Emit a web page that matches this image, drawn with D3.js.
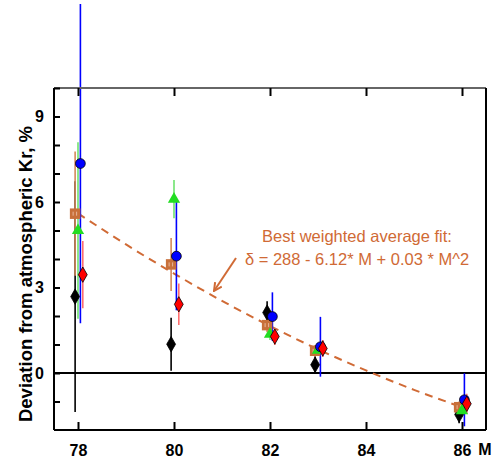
<!DOCTYPE html>
<html>
<head>
<meta charset="utf-8">
<script src="https://cdn.jsdelivr.net/npm/d3@7"></script>
<style>
body { margin: 0; background: #fff; }
text { font-family: Arial, "Liberation Sans", sans-serif; }
</style>
</head>
<body>
<div id="chart"></div>
<script>
// isotope masses and the deviations read for each data set
var masses = [78, 80, 82, 83, 86];

var blackVals = [2.68, 1.01, 2.12, 0.29, -1.46];
var blackErr  = [4.05, 0.93, 0.40, 0.30, 0.30];

var blueVals = [7.35, 4.1, 1.98, 0.92, -0.94];
var blueErr  = [5.6, 1.9, 0.85, 1.05, 0.93];

var greenVals = [5.0, 6.1, 1.36, 0.8, -1.32];
var greenErr  = [3.1, 0.67, 0.2, 0.2, 0.2];

var redVals = [3.45, 2.41, 1.28, 0.86, -1.08];
var redErr  = [1.18, 0.73, 0.3, 0.3, 0.35];

var avgVals = [5.59, 3.81, 1.68, 0.78, -1.2];
var avgErr  = [2.18, 0.93, 0.25, 0.2, 0.2];

// dashed best fit curve
var fitM    = [78, 79, 80, 81, 82, 83, 84, 85, 86];
var fitVals = [5.6, 4.51, 3.49, 2.53, 1.65, 0.83, 0.09, -0.59, -1.2];

var xTicks = [78, 80, 82, 84, 86];
var yTicks = [-1, 0, 1, 2, 3, 4, 5, 6, 7, 8, 9, 10];
var yLabels = [0, 3, 6, 9];

var margin = {top: 88, right: 10, bottom: 29, left: 54},
    width = 496 - margin.left - margin.right,
    height = 459 - margin.top - margin.bottom;

var svg = d3.select("#chart")
  .append("svg")
    .attr("width", 496)
    .attr("height", 459)
  .append("g")
    .attr("transform", "translate(" + margin.left + "," + margin.top + ")");

var x = d3.scaleLinear().domain([77.5, 86.5]).range([0, width]);
var y = d3.scaleLinear().domain([-2, 10]).range([height, 0]);

var orange = "#d06a35";

// series: offset along M so the bars do not overlap
var series = [
  {name: "black", vals: blackVals, err: blackErr, dx: -0.06, bar: "#000", fill: "#000", stroke: "#000", sym: d3.symbolDiamond, size: 68},
  {name: "avg", vals: avgVals, err: avgErr, dx: -0.06, bar: "#d4895a", fill: "#c8703a", stroke: "none", sym: d3.symbolSquare, size: 110},
  {name: "green", vals: greenVals, err: greenErr, dx: 0.0, bar: "#6fe36f", fill: "#22dd22", stroke: "none", sym: d3.symbolTriangle, size: 65},
  {name: "blue", vals: blueVals, err: blueErr, dx: 0.05, bar: "#0000ff", fill: "#0000ff", stroke: "#000", sym: d3.symbolCircle, size: 75},
  {name: "red", vals: redVals, err: redErr, dx: 0.1, bar: "#ff6e6e", fill: "#ff0000", stroke: "#000", sym: d3.symbolDiamond, size: 68}
];

// zero line
svg.append("line")
  .attr("x1", 0).attr("x2", width)
  .attr("y1", y(0)).attr("y2", y(0))
  .attr("stroke", "#000").attr("stroke-width", 2);

// fit curve
var fitData = fitM.map(function(m, i) { return {m: m, v: fitVals[i]}; });
svg.append("path")
  .datum(fitData)
  .attr("fill", "none")
  .attr("stroke", orange)
  .attr("stroke-width", 2)
  .attr("stroke-dasharray", "8,6")
  .attr("d", d3.line()
    .x(function(d) { return x(d.m); })
    .y(function(d) { return y(d.v); })
    .curve(d3.curveNatural));

// error bars
series.forEach(function(s) {
  var rows = masses.map(function(m, i) { return {m: m + s.dx, v: s.vals[i], e: s.err[i]}; });
  svg.append("g").selectAll("line")
    .data(rows)
    .enter()
    .append("line")
    .attr("x1", function(d) { return x(d.m); })
    .attr("x2", function(d) { return x(d.m); })
    .attr("y1", function(d) { return y(d.v - d.e); })
    .attr("y2", function(d) { return y(d.v + d.e); })
    .attr("stroke", s.bar)
    .attr("stroke-width", 1.6);
});

// markers
series.forEach(function(s) {
  var rows = masses.map(function(m, i) { return {m: m + s.dx, v: s.vals[i]}; });
  var g = svg.append("g").selectAll("g")
    .data(rows)
    .enter()
    .append("g")
    .attr("transform", function(d) { return "translate(" + x(d.m) + "," + y(d.v) + ")"; });
  g.append("path")
    .attr("d", d3.symbol().type(s.sym).size(s.size))
    .attr("fill", s.fill)
    .attr("stroke", s.stroke)
    .attr("stroke-width", 0.8);
  if (s.name == "avg") {
    g.append("path")
      .attr("d", "M-2,-2V2M1.5,-2V2")
      .attr("stroke", "#e8b89a")
      .attr("stroke-width", 1);
  }
});

// frame
svg.append("line").attr("x1", 0).attr("x2", width).attr("y1", 0).attr("y2", 0)
  .attr("stroke", "#666").attr("stroke-width", 2);
svg.append("line").attr("x1", 0).attr("x2", width).attr("y1", height).attr("y2", height)
  .attr("stroke", "#000").attr("stroke-width", 2);
svg.append("line").attr("x1", 0).attr("x2", 0).attr("y1", 0).attr("y2", height)
  .attr("stroke", "#000").attr("stroke-width", 2);
svg.append("line").attr("x1", width).attr("x2", width).attr("y1", 0).attr("y2", height)
  .attr("stroke", "#000").attr("stroke-width", 2);

// bottom axis
var xAxis = svg.append("g")
  .attr("transform", "translate(0," + height + ")")
  .call(d3.axisBottom(x).tickValues(xTicks).tickSizeInner(-8).tickSizeOuter(0).tickPadding(15));
xAxis.select(".domain").remove();
xAxis.selectAll("line").attr("stroke-width", 2);
xAxis.selectAll("text")
  .attr("font-size", 16).attr("font-weight", "bold")
  .attr("font-family", "Arial, 'Liberation Sans', sans-serif")
  .attr("fill", "#000");

// top ticks
var topAxis = svg.append("g")
  .call(d3.axisTop(x).tickValues(xTicks).tickSizeInner(-8).tickSizeOuter(0).tickFormat(""));
topAxis.select(".domain").remove();
topAxis.selectAll("line").attr("stroke-width", 2);

// left axis
var yAxis = svg.append("g")
  .call(d3.axisLeft(y).tickValues(yTicks).tickSizeInner(-6).tickSizeOuter(0).tickPadding(10)
    .tickFormat(function(d) { return yLabels.indexOf(d) >= 0 ? d : ""; }));
yAxis.select(".domain").remove();
yAxis.selectAll("line").attr("stroke-width", 2);
yAxis.selectAll("text")
  .attr("font-size", 16).attr("font-weight", "bold")
  .attr("font-family", "Arial, 'Liberation Sans', sans-serif")
  .attr("fill", "#000");

// axis titles
svg.append("text")
  .attr("x", 431)
  .attr("y", height + 25)
  .attr("text-anchor", "middle")
  .attr("font-size", 16)
  .attr("font-weight", "bold")
  .text("M");

svg.append("text")
  .attr("transform", "translate(" + (32 - margin.left) + "," + (274 - margin.top) + ") rotate(-90)")
  .attr("text-anchor", "middle")
  .attr("font-size", 18.5)
  .attr("font-weight", "bold")
  .text("Deviation from atmospheric Kr, %");

// annotation
svg.append("text")
  .attr("x", 357 - margin.left).attr("y", 242 - margin.top)
  .attr("text-anchor", "middle")
  .attr("font-size", 16.5)
  .attr("fill", orange)
  .text("Best weighted average fit:");
svg.append("text")
  .attr("x", 357 - margin.left).attr("y", 265 - margin.top)
  .attr("text-anchor", "middle")
  .attr("font-size", 16.5)
  .attr("fill", orange)
  .text("\u03b4 = 288 - 6.12* M + 0.03 * M^2");

svg.append("defs").append("marker")
  .attr("id", "arrow")
  .attr("viewBox", "0 0 10 10")
  .attr("refX", 9).attr("refY", 5)
  .attr("markerWidth", 5).attr("markerHeight", 5)
  .attr("orient", "auto")
  .append("path")
    .attr("d", "M1,1L9,5L1,9")
    .attr("fill", "none")
    .attr("stroke", orange)
    .attr("stroke-width", 2);

svg.append("line")
  .attr("x1", 236 - margin.left).attr("y1", 258 - margin.top)
  .attr("x2", 214 - margin.left).attr("y2", 291 - margin.top)
  .attr("stroke", orange)
  .attr("stroke-width", 2)
  .attr("marker-end", "url(#arrow)");
</script>
</body>
</html>
